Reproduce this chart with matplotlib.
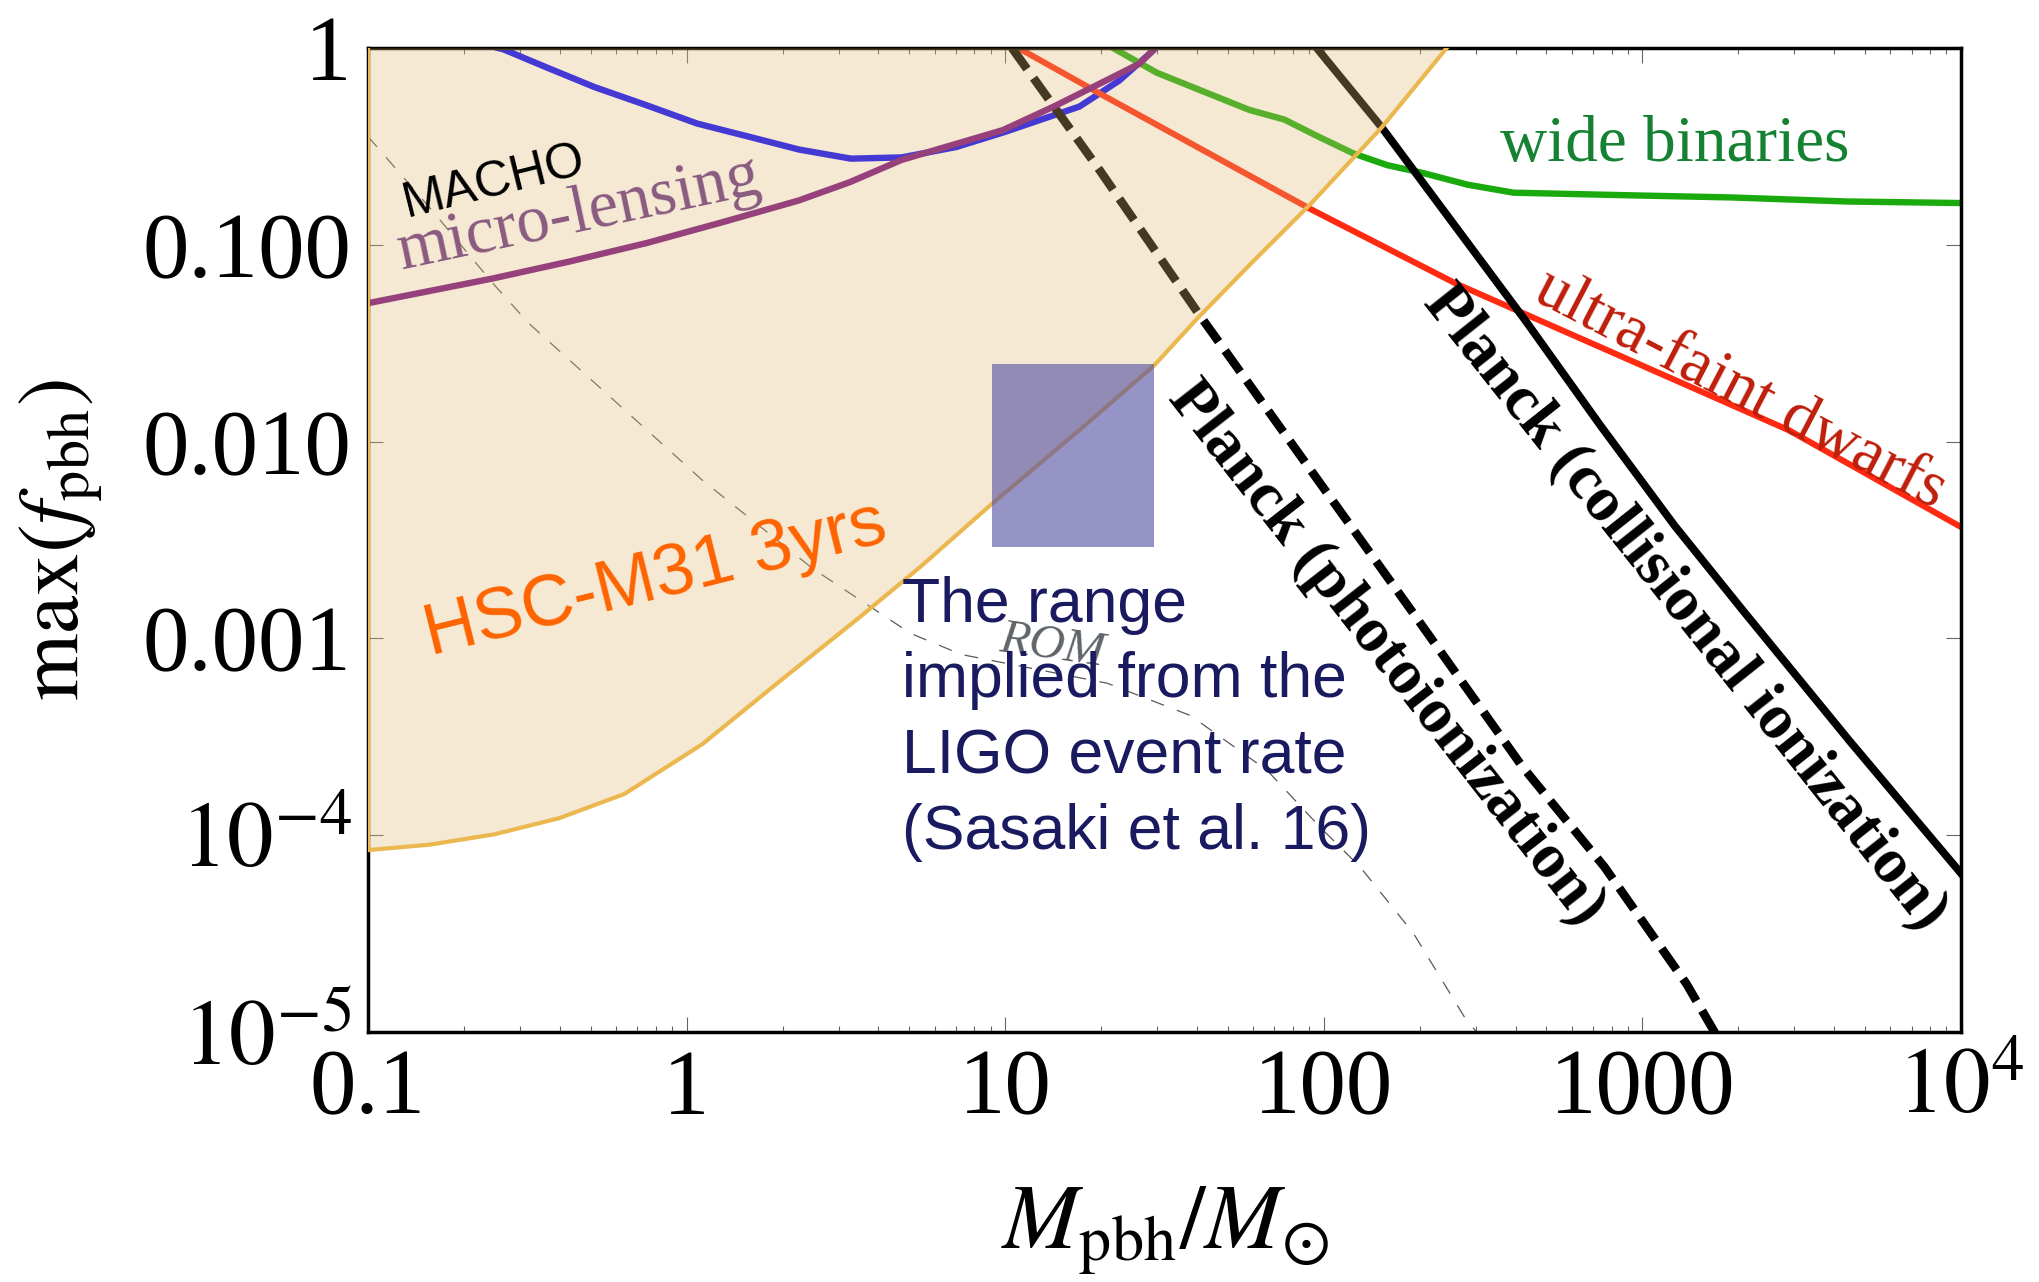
import matplotlib
matplotlib.use('Agg')
import matplotlib.pyplot as plt
from matplotlib.ticker import NullFormatter

plt.rcParams['mathtext.fontset'] = 'stix'
plt.rcParams['font.family'] = ['Liberation Serif', 'DejaVu Serif']

# HSC-M31 3yrs upper limit (shaded region above this curve)
hsc_m = [0.1, 0.156, 0.249, 0.398, 0.638, 1.12, 1.97, 3.47, 5.40, 9.1, 17.2, 29.3, 40.0, 58.3, 91.5, 152, 243]
hsc_f = [8.4e-5, 8.95e-5, 1.01e-4, 1.22e-4, 1.62e-4, 2.90e-4, 6.1e-4, 1.27e-3, 2.30e-3, 4.84e-3, 0.01154, 0.0243, 0.0421, 0.0786, 0.163, 0.395, 1.0]

# MACHO / EROS micro-lensing (blue)
macho_m = [0.256, 0.266, 0.356, 0.514, 0.748, 1.08, 1.56, 2.25, 3.28, 4.73, 7.02, 9.85, 17.1, 22.8, 28.8, 29.6]
macho_f = [1.0, 0.985, 0.808, 0.633, 0.512, 0.413, 0.355, 0.305, 0.274, 0.278, 0.314, 0.372, 0.504, 0.683, 0.955, 1.0]

# micro-lensing (purple)
micro_m = [0.1, 0.247, 0.430, 0.748, 1.29, 2.25, 3.25, 4.73, 9.85, 14.2, 20.7, 26.4, 29.6]
micro_f = [0.0505, 0.0675, 0.0823, 0.102, 0.130, 0.168, 0.208, 0.270, 0.383, 0.504, 0.683, 0.833, 1.0]

# ultra-faint dwarfs (red)
ufd_m = [11.0, 19.8, 91.5, 260, 1262, 2890, 1e4]
ufd_f = [1.0, 0.587, 0.151, 0.0635, 0.0206, 0.0114, 0.00368]

# wide binaries (green)
wb_m = [21.8, 29.9, 45.6, 58.3, 75.2, 96, 124, 158, 204, 283, 394, 836, 1910, 4375, 1e4]
wb_f = [1.0, 0.749, 0.569, 0.485, 0.433, 0.355, 0.291, 0.254, 0.232, 0.202, 0.184, 0.179, 0.174, 0.166, 0.163]

# Planck (collisional ionization), solid black
pcol_m = [95, 152, 428, 738, 1262, 2080, 4456, 1e4]
pcol_f = [1.0, 0.395, 0.0415, 0.01208, 0.00374, 0.00137, 3.03e-4, 6.4e-5]

# Planck (photoionization), dashed black
pph_m = [10.5, 19.8, 40.4, 184, 420, 760, 1374, 1690]
pph_f = [1.0, 0.239, 0.0448, 0.00146, 2.23e-4, 6.9e-5, 1.76e-5, 9.9e-6]

# ROM forecast, thin grey dashed
rom_m = [0.1, 0.158, 0.247, 0.318, 1.12, 2.49, 5.05, 7.29, 20.9, 38.2, 66.5, 97.8, 130, 191, 280, 302]
rom_f = [0.355, 0.151, 0.0635, 0.0402, 0.00637, 0.00226, 1.06e-3, 8.28e-4, 5.92e-4, 4.05e-4, 2.13e-4, 1.09e-4, 6.9e-5, 3.18e-5, 1.15e-5, 1e-5]

# LIGO implied range (Sasaki et al. 16)
ligo_m = [9.1, 29.3]
ligo_f = [0.00293, 0.0247]

xticks = [0.1, 1, 10, 100, 1000, 1e4]
xticklabels = ['0.1', '1', '10', '100', '1000', r'$10^4$']
yticks = [1e-5, 1e-4, 1e-3, 1e-2, 0.1, 1]
yticklabels = [r'$10^{-5}$', r'$10^{-4}$', '0.001', '0.010', '0.100', '1']

fig = plt.figure(figsize=(20.4, 12.82), dpi=100)
ax = fig.add_axes([368 / 2040, 1 - 1032 / 1282, (1961 - 368) / 2040, (1032 - 48) / 1282])
ax.set_xscale('log')
ax.set_yscale('log')

# curves (drawn under the shaded HSC region)
ax.plot(rom_m, rom_f, color='0.35', lw=0.9, dashes=(11, 11), zorder=2)
ax.plot(macho_m, macho_f, color='#0000FF', lw=4.6, zorder=2)
ax.plot(micro_m, micro_f, color='#750A82', lw=4.6, zorder=2.1)
ax.plot(ufd_m, ufd_f, color='#FF2A12', lw=4.4, zorder=2)
ax.plot(wb_m, wb_f, color='#1AAA0E', lw=4.6, zorder=2)
ax.plot(pcol_m, pcol_f, color='black', lw=5.6, zorder=2)
ax.plot(pph_m, pph_f, color='black', lw=6.2, dashes=(3, 1.3), zorder=2)

# HSC-M31 shaded region and its edge
ax.fill_between(hsc_m, hsc_f, 1, color=(226 / 255, 187 / 255, 113 / 255), alpha=0.31, lw=0, zorder=3)
ax.plot(hsc_m, hsc_f, color='#EBB850', lw=3, zorder=3.1)
ax.plot([hsc_m[0], hsc_m[0]], [hsc_f[0], 1], color='#EBB850', lw=3, zorder=3.1)

# LIGO box
ax.fill_between(ligo_m, ligo_f[0], ligo_f[1], color=(80 / 255, 77 / 255, 163 / 255), alpha=0.6, lw=0, zorder=4)

ax.set_xlim(0.1, 1e4)
ax.set_ylim(1e-5, 1)

# labels on the plot
kw = dict(ha='center', va='center', rotation_mode='anchor', zorder=5)
ax.text(0.249, 0.208, 'MACHO', family='Liberation Sans', fontsize=36, rotation=14, color='black', **kw)
ax.text(0.459, 0.142, 'micro-lensing', fontsize=48, rotation=12, color='#8A5A80', **kw)
ax.text(0.80, 1.97e-3, 'HSC-M31 3yrs', family='Liberation Sans', fontsize=52, rotation=14, color='#FF6400', **kw)
ax.text(14.0, 9.1e-4, 'ROM', fontsize=35, style='italic', rotation=-8, color='#5F6468', **kw)
ax.text(1262, 0.319, 'wide binaries', fontsize=47, color='#148232', **kw)
ax.text(2023, 0.0182, 'ultra-faint dwarfs', fontsize=47, rotation=-27.5, color='#BE1E0A', **kw)
ax.text(1361, 1.43e-3, 'Planck (collisional ionization)', fontsize=46, fontweight='bold', rotation=-51.5, color='black', **kw)
ax.text(156, 8.4e-4, 'Planck (photoionization)', fontsize=46, fontweight='bold', rotation=-52, color='black', **kw)
# baseline of the last line
ax.text(4.73, 8.55e-5, 'The range\nimplied from the\nLIGO event rate\n(Sasaki et al. 16)',
        family='Liberation Sans', fontsize=45, color='#1A1A60', ha='left', va='baseline',
        linespacing=1.36, zorder=5)

# axes and ticks
ax.set_xticks(xticks)
ax.set_xticklabels(xticklabels)
ax.set_yticks(yticks)
ax.set_yticklabels(yticklabels)
ax.xaxis.set_minor_formatter(NullFormatter())
ax.yaxis.set_minor_formatter(NullFormatter())
ax.tick_params(which='both', direction='in', top=True, right=True, color='0.4', width=0.8)
ax.tick_params(which='major', length=11, labelsize=67)
ax.tick_params(which='minor', length=4.5)
ax.tick_params(axis='x', pad=12)
ax.tick_params(axis='y', pad=12)
for s in ax.spines.values():
    s.set_linewidth(2.5)

ax.set_xlabel(r'$M_{\rm pbh}/M_{\odot}$', fontsize=66)
ax.set_ylabel(r'$\mathrm{max}(f_{\rm pbh})$', fontsize=62)
ax.xaxis.set_label_coords(0.5, -0.155)
ax.yaxis.set_label_coords(-0.165, 0.5)

fig.savefig('out.png', dpi=100)
